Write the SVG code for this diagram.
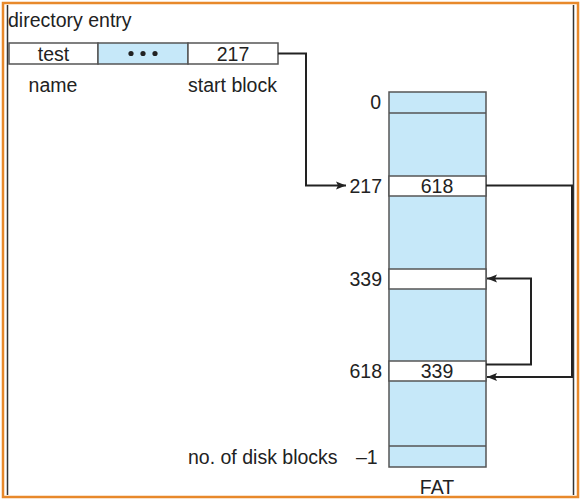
<svg xmlns="http://www.w3.org/2000/svg" width="584" height="501" viewBox="0 0 584 501">
<defs>
<style>
text{font-family:"Liberation Sans",Arial,sans-serif;font-size:19.5px;fill:#222}
.c{text-anchor:middle}
.r{text-anchor:end}
.box{stroke:#555;stroke-width:1.5}
.blue{fill:#c6e8f9}
.white{fill:#fff}
.conn{fill:none;stroke:#222;stroke-width:2}
</style>
<marker id="ah" viewBox="0 0 10 10" refX="10" refY="5" markerWidth="10" markerHeight="10" markerUnits="userSpaceOnUse" orient="auto">
<path d="M0,1 L10,5 L0,9 L2,5 Z" fill="#222"/>
</marker>
</defs>
<rect x="0" y="0" width="584" height="501" fill="#fff"/>
<g id="frame">
<rect x="3" y="3" width="575" height="494" fill="none" stroke="#e8892b" stroke-width="2.5"/>
<line x1="7.5" y1="5" x2="7.5" y2="495" stroke="#333" stroke-width="1.5"/>
<line x1="573.5" y1="5" x2="573.5" y2="495" stroke="#333" stroke-width="1.5"/>
</g>
<g id="directory-entry">
<text x="8" y="27">directory entry</text>
<rect class="box white" x="9" y="43" width="89" height="21"/>
<rect class="box blue" x="98" y="43" width="90" height="21"/>
<rect class="box white" x="188" y="43" width="90" height="21"/>
<text class="c" x="53.5" y="60.5">test</text>
<circle cx="131" cy="53.5" r="2.6" fill="#222"/>
<circle cx="143" cy="53.5" r="2.6" fill="#222"/>
<circle cx="155" cy="53.5" r="2.6" fill="#222"/>
<text class="c" x="233" y="60.5">217</text>
<text class="c" x="53" y="92">name</text>
<text class="c" x="232.5" y="92">start block</text>
</g>
<g id="fat">
<rect class="box blue" x="389" y="92" width="97" height="375"/>
<line class="box" x1="389" y1="113" x2="486" y2="113"/>
<rect class="box white" x="389" y="176" width="97" height="20"/>
<rect class="box white" x="389" y="269" width="97" height="20"/>
<rect class="box white" x="389" y="361" width="97" height="20"/>
<line class="box" x1="389" y1="446" x2="486" y2="446"/>
<text class="c" x="437" y="193">618</text>
<text class="c" x="437" y="378">339</text>
<text class="r" x="381" y="109">0</text>
<text class="r" x="382" y="193">217</text>
<text class="r" x="382" y="286">339</text>
<text class="r" x="382" y="378">618</text>
<text x="188" y="464">no. of disk blocks</text>
<text x="356" y="464">–1</text>
<text class="c" x="437" y="494">FAT</text>
</g>
<g id="connectors">
<path class="conn" d="M278,53.5 H306 V185.5 H346" marker-end="url(#ah)"/>
<path class="conn" d="M486,185.5 H572 V377 H487" marker-end="url(#ah)"/>
<path class="conn" d="M486,364.5 H531 V278.5 H487" marker-end="url(#ah)"/>
</g>
</svg>
